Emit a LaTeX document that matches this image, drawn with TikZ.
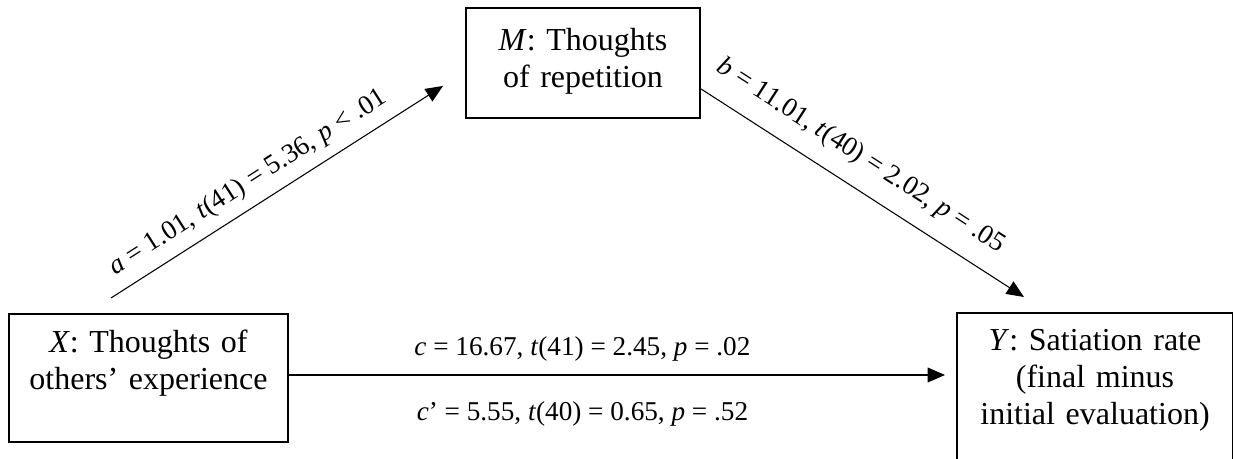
\documentclass[tikz,border=0pt]{standalone}
\usepackage{fontspec}
\setmainfont{Liberation Serif}
\usetikzlibrary{arrows.meta}

\begin{document}
\begin{tikzpicture}[
    x=0.375pt, y=-0.375pt,
    font=\fontsize{12}{13.8}\selectfont,
    >={Triangle[length=6.5pt, width=5.5pt]},
    varbox/.style={draw, line width=0.75pt, anchor=north west, inner sep=0pt, align=center},
    effect/.style={->, line width=0.4pt},
    stat/.style={font=\fontsize{10.2}{12}\selectfont}
]
    \useasboundingbox (0,0) rectangle (1233,459);
    \clip (0,0) rectangle (1233,459);

    % Variables
    \node[varbox, text width=104.6pt, text height=14.6pt, text depth=33.4pt] (X) at (8,313)
        {\textit{X}: Thoughts of\\others’ experience};
    \node[varbox, text width=87.75pt, text height=16.1pt, text depth=25.1pt] (M) at (465,7)
        {\textit{M}: Thoughts\\of repetition};
    \node[varbox, text width=103.5pt, text height=14.25pt, text depth=48.75pt] (Y) at (956,312)
        {\textit{Y}: Satiation rate\\(final minus\\initial evaluation)};

    % Path a
    \draw[effect] ([shift={(-37.5,-15)}]X.north) -- ([shift={(-22,23)}]M.west)
        node[stat, pos=0.45, sloped, above=0.5pt] {\textit{a} = 1.01, \textit{t}(41) = 5.36, \textit{p} < .01};

    % Path b
    \draw[effect] ([shift={(0,26)}]M.east) -- ([shift={(-71,-15)}]Y.north)
        node[stat, pos=0.445, sloped, above=3pt] {\textit{b} = 11.01, \textit{t}(40) = 2.02, \textit{p} = .05};

    % Paths c and c'
    \draw[effect, shorten >=4.1pt] ([shift={(0,-3)}]X.east) -- ([shift={(0,-3)}]X.east -| Y.west)
        node[stat, pos=0.44, above=1.5pt] {\textit{c} = 16.67, \textit{t}(41) = 2.45, \textit{p} = .02}
        node[stat, pos=0.44, below=6.5pt] {\textit{c}’ = 5.55, \textit{t}(40) = 0.65, \textit{p} = .52};
\end{tikzpicture}
\end{document}
